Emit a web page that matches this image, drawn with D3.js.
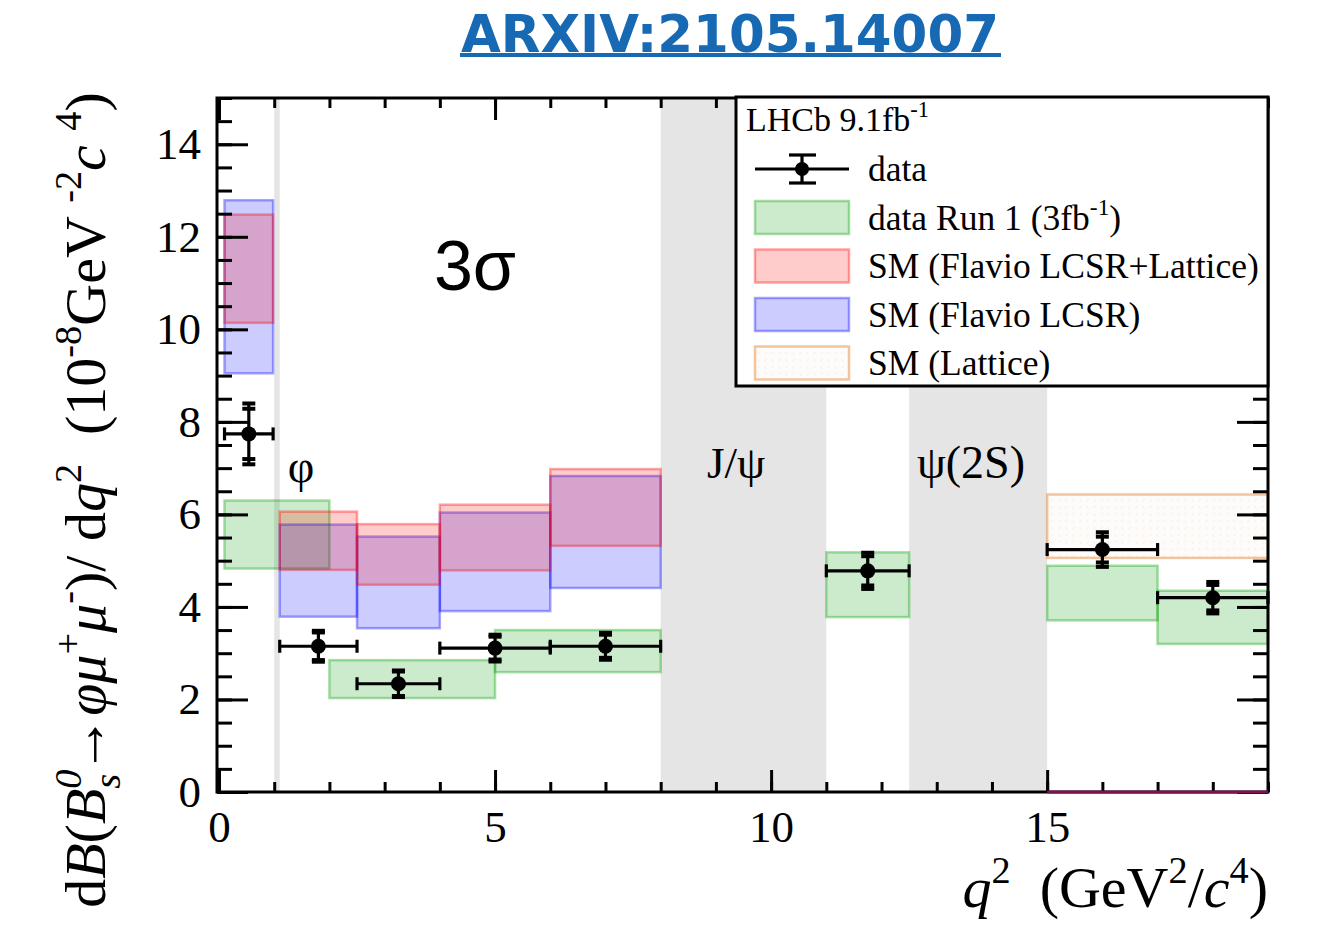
<!DOCTYPE html>
<html>
<head>
<meta charset="utf-8">
<script src="https://cdn.jsdelivr.net/npm/d3@7"></script>
<style>
  body { margin: 0; background: #fff; }
  text { white-space: pre; }
</style>
</head>
<body>
<svg id="chart" width="1317" height="925"></svg>
<script>
// ---- LHCb 9.1 fb^-1 measurement: bins, central values and uncertainties ----
const dataLo   = [0.1, 1.1, 2.5, 4.0, 6.0, 11.0, 15.0, 17.0];
const dataHi   = [0.98, 2.5, 4.0, 6.0, 8.0, 12.5, 17.0, 19.0];
const dataVal  = [7.74, 3.15, 2.34, 3.11, 3.15, 4.78, 5.24, 4.20];
const dataStat = [0.53, 0.29, 0.26, 0.24, 0.24, 0.30, 0.26, 0.26];
const dataSyst = [0.12, 0.07, 0.05, 0.06, 0.07, 0.10, 0.10, 0.09];
const dataNorm = [0.37, 0.15, 0.11, 0.15, 0.15, 0.23, 0.25, 0.20];

// ---- Run 1 (3 fb^-1) result bands ----
const run1Lo   = [0.1, 2.0, 5.0, 11.0, 15.0, 17.0];
const run1Hi   = [2.0, 5.0, 8.0, 12.5, 17.0, 19.0];
const run1Min  = [4.83, 2.03, 2.59, 3.78, 3.71, 3.20];
const run1Max  = [6.30, 2.85, 3.50, 5.18, 4.89, 4.35];

// ---- SM predictions (flavio) ----
const smLo     = [0.1, 1.1, 2.5, 4.0, 6.0, 15.0];
const smHi     = [0.98, 2.5, 4.0, 6.0, 8.0, 19.0];
const lcsrLatMin = [10.14, 4.80, 4.48, 4.79, 5.32, 0];
const lcsrLatMax = [12.48, 6.06, 5.79, 6.21, 6.98, 0];
const lcsrMin    = [9.05, 3.79, 3.54, 3.91, 4.41, 0];
const lcsrMax    = [12.79, 5.78, 5.52, 6.04, 6.83, 0];

// ---- SM prediction (lattice), high q^2 only ----
const latLo  = [15.0];
const latHi  = [19.0];
const latMin = [5.06];
const latMax = [6.43];

// ---- vetoed charmonium / phi regions ----
const vetoLo = [1.0, 8.0, 12.5];
const vetoHi = [1.1, 11.0, 15.0];

// ---- axis ticks ----
const xMajor = [0, 5, 10, 15];
const xMinor = d3.range(0, 20, 1);
const yMajor = [0, 2, 4, 6, 8, 10, 12, 14];
const yMinor = d3.range(0, 15.01, 0.5);

const legendLabels = [
  [{t: "data"}],
  [{t: "data Run 1 (3fb"}, {t: "-1", pos: "sup"}, {t: ")"}],
  [{t: "SM (Flavio LCSR+Lattice)"}],
  [{t: "SM (Flavio LCSR)"}],
  [{t: "SM (Lattice)"}]
];

const serif = "'Liberation Serif', 'Times New Roman', serif";
const sans = "'Liberation Sans', Arial, sans-serif";

const svg = d3.select("#chart");
const frame = {left: 217, right: 1268, top: 98, bottom: 792};
const x = d3.scaleLinear().domain([0, 19]).range([219, 1268]);
const y = d3.scaleLinear().domain([0, 15]).range([792, 98]);

// style of each band family
const styles = {
  run1:  {fill: "rgba(0,153,0,0.20)",  stroke: "rgba(0,160,0,0.35)"},
  lcsr:  {fill: "rgba(0,0,255,0.20)",  stroke: "rgba(0,0,255,0.35)"},
  lat2:  {fill: "rgba(255,0,0,0.20)",  stroke: "rgba(255,0,0,0.35)"},
  lat:   {fill: "url(#latHatch)",      stroke: "rgba(232,150,80,0.55)"}
};

// faint texture for the lattice band
const defs = svg.append("defs");
const pat = defs.append("pattern").attr("id", "latHatch")
  .attr("patternUnits", "userSpaceOnUse").attr("width", 14).attr("height", 14);
pat.append("rect").attr("width", 14).attr("height", 14).attr("fill", "rgba(250,230,210,0.12)");
pat.append("path").attr("d", "M1,4 L4,2 M8,11 L11,9 M2,9 L3,12 M9,2 L10,5")
  .attr("stroke", "rgba(235,180,140,0.22)").attr("stroke-width", 1).attr("fill", "none");

// ---- rich text helper (italics, super/subscripts) ----
function rich(textSel, segs, size) {
  let cur = 0;
  let prev = null;
  segs.forEach(s => {
    const small = s.pos === "sup" || s.pos === "sub";
    const target = s.pos === "sup" ? -0.42 * size : s.pos === "sub" ? 0.26 * size : 0;
    const ts = textSel.append("tspan")
      .attr("font-size", small ? size * 0.66 : size)
      .attr("font-style", s.it ? "italic" : "normal")
      .attr("dy", target - cur)
      .text(s.t);
    if (s.back && prev) ts.attr("dx", -prev.node().getComputedTextLength());
    cur = target;
    prev = ts;
  });
}

// ---- veto bands ----
svg.append("g").selectAll("rect").data(vetoLo).join("rect")
  .attr("x", (d, i) => x(d))
  .attr("width", (d, i) => x(vetoHi[i]) - x(d))
  .attr("y", y(15)).attr("height", y(0) - y(15))
  .attr("fill", "#e5e5e5");

// ---- boxes ----
function boxes(lo, hi, mn, mx, st) {
  svg.append("g").selectAll("rect").data(lo).join("rect")
    .attr("x", (d) => x(d))
    .attr("width", (d, i) => x(hi[i]) - x(d))
    .attr("y", (d, i) => y(mx[i]))
    .attr("height", (d, i) => y(mn[i]) - y(mx[i]))
    .attr("fill", st.fill)
    .attr("stroke", st.stroke)
    .attr("stroke-width", 2.5);
}
boxes(run1Lo, run1Hi, run1Min, run1Max, styles.run1);
boxes(latLo, latHi, latMin, latMax, styles.lat);
boxes(smLo, smHi, lcsrMin, lcsrMax, styles.lcsr);
boxes(smLo, smHi, lcsrLatMin, lcsrLatMax, styles.lat2);

// ---- region labels ----
svg.append("text").attr("x", 301).attr("y", 482).attr("text-anchor", "middle")
  .attr("font-family", serif).attr("font-size", 46).text("φ");
svg.append("text").attr("x", 736).attr("y", 478).attr("text-anchor", "middle")
  .attr("font-family", serif).attr("font-size", 45).text("J/ψ");
svg.append("text").attr("x", 971).attr("y", 478).attr("text-anchor", "middle")
  .attr("font-family", serif).attr("font-size", 46).text("ψ(2S)");
svg.append("text").attr("x", 475).attr("y", 290).attr("text-anchor", "middle")
  .attr("font-family", sans).attr("font-size", 70).text("3σ");

// ---- data points ----
const pts = dataVal.map((v, i) => {
  const inner = Math.hypot(dataStat[i], dataSyst[i]);
  const tot = Math.hypot(dataStat[i], dataSyst[i], dataNorm[i]);
  return {lo: dataLo[i], hi: dataHi[i], v, inner, tot, mid: (dataLo[i] + dataHi[i]) / 2};
});
const gp = svg.append("g").attr("stroke", "#000").attr("stroke-width", 3.2);
const pg = gp.selectAll("g").data(pts).join("g");
pg.append("line").attr("x1", d => x(d.lo)).attr("x2", d => x(d.hi))
  .attr("y1", d => y(d.v)).attr("y2", d => y(d.v));
pg.append("line").attr("x1", d => x(d.lo)).attr("x2", d => x(d.lo))
  .attr("y1", d => y(d.v) - 6.5).attr("y2", d => y(d.v) + 6.5);
pg.append("line").attr("x1", d => x(d.hi)).attr("x2", d => x(d.hi))
  .attr("y1", d => y(d.v) - 6.5).attr("y2", d => y(d.v) + 6.5);
pg.append("line").attr("x1", d => x(d.mid)).attr("x2", d => x(d.mid))
  .attr("y1", d => y(d.v + d.tot)).attr("y2", d => y(d.v - d.tot));
[["tot", 1], ["tot", -1], ["inner", 1], ["inner", -1]].forEach(([k, s]) => {
  pg.append("line").attr("x1", d => x(d.mid) - 6.5).attr("x2", d => x(d.mid) + 6.5)
    .attr("y1", d => y(d.v + s * d[k])).attr("y2", d => y(d.v + s * d[k]))
    .attr("stroke-width", 4);
});
pg.append("circle").attr("cx", d => x(d.mid)).attr("cy", d => y(d.v)).attr("r", 7.5)
  .attr("fill", "#000").attr("stroke", "none");

// ---- axes (ticks pointing inward) ----
function styleAxis(g) {
  g.select(".domain").remove();
  g.selectAll(".tick line").attr("stroke", "#000").attr("stroke-width", 3);
  g.selectAll("text").attr("font-family", serif).attr("font-size", 45).attr("fill", "#000");
}
svg.append("g").attr("transform", `translate(0,${frame.bottom})`)
  .call(d3.axisBottom(x).tickValues(xMinor).tickSize(-10).tickFormat("")).call(styleAxis);
svg.append("g").attr("transform", `translate(0,${frame.bottom})`)
  .call(d3.axisBottom(x).tickValues(xMajor).tickSize(-22).tickPadding(18).tickFormat(d3.format("d")))
  .call(styleAxis);
svg.append("g").attr("transform", `translate(0,${frame.top})`)
  .call(d3.axisTop(x).tickValues(xMinor).tickSize(-10).tickFormat("")).call(styleAxis);
svg.append("g").attr("transform", `translate(0,${frame.top})`)
  .call(d3.axisTop(x).tickValues(xMajor).tickSize(-22).tickFormat("")).call(styleAxis);
svg.append("g").attr("transform", `translate(${frame.left},0)`)
  .call(d3.axisLeft(y).tickValues(yMinor).tickSize(-15).tickFormat("")).call(styleAxis);
svg.append("g").attr("transform", `translate(${frame.left},0)`)
  .call(d3.axisLeft(y).tickValues(yMajor).tickSize(-31).tickPadding(16).tickFormat(d3.format("d")))
  .call(styleAxis);
svg.append("g").attr("transform", `translate(${frame.right},0)`)
  .call(d3.axisRight(y).tickValues(yMinor).tickSize(-15).tickFormat("")).call(styleAxis);
svg.append("g").attr("transform", `translate(${frame.right},0)`)
  .call(d3.axisRight(y).tickValues(yMajor).tickSize(-31).tickFormat("")).call(styleAxis);

svg.append("rect").attr("x", frame.left).attr("y", frame.top)
  .attr("width", frame.right - frame.left).attr("height", frame.bottom - frame.top)
  .attr("fill", "none").attr("stroke", "#000").attr("stroke-width", 3);

// zero-width SM entries at high q^2 sit on the axis
const zeroIdx = d3.range(smLo.length).filter(i => lcsrMax[i] === 0);
svg.append("g").selectAll("line").data(zeroIdx).join("line")
  .attr("x1", i => x(smLo[i])).attr("x2", i => x(smHi[i]))
  .attr("y1", i => y(lcsrMax[i])).attr("y2", i => y(lcsrMax[i]))
  .attr("stroke", "#7a1450").attr("stroke-width", 3);

// ---- axis titles ----
const xt = svg.append("text").attr("x", 1268).attr("y", 907).attr("text-anchor", "end")
  .attr("font-family", serif).attr("fill", "#000");
rich(xt, [{t: "q", it: 1}, {t: "2", pos: "sup"}, {t: "  (GeV"}, {t: "2", pos: "sup"},
          {t: "/"}, {t: "c", it: 1}, {t: "4", pos: "sup"}, {t: ")"}], 58);

const yt = svg.append("text").attr("transform", "translate(105,500) rotate(-90)")
  .attr("text-anchor", "middle").attr("font-family", serif).attr("fill", "#000");
rich(yt, [
  {t: "d"}, {t: "B", it: 1}, {t: "("}, {t: "B", it: 1},
  {t: "0", it: 1, pos: "sup"}, {t: "s", it: 1, pos: "sub", back: true},
  {t: "→"}, {t: "φμ", it: 1}, {t: "+", pos: "sup"}, {t: "μ", it: 1}, {t: "-", pos: "sup"},
  {t: ")/ d"}, {t: "q", it: 1}, {t: "2", pos: "sup"}, {t: "  (10"}, {t: "-8", pos: "sup"},
  {t: "GeV "}, {t: "-2", pos: "sup"}, {t: "c ", it: 1}, {t: "4", pos: "sup"}, {t: ")"}
], 58);

// ---- legend ----
const lg = svg.append("g");
lg.append("rect").attr("x", 736).attr("y", 97).attr("width", 1268 - 736).attr("height", 386 - 97)
  .attr("fill", "#fff").attr("stroke", "#000").attr("stroke-width", 3);
const lh = lg.append("text").attr("x", 746).attr("y", 131).attr("font-family", serif);
rich(lh, [{t: "LHCb 9.1fb"}, {t: "-1", pos: "sup"}], 34);

const rowY = d3.scaleLinear().domain([0, 1]).range([169, 217.5]);
const swatch = [null, styles.run1, styles.lat2, styles.lcsr, styles.lat];
legendLabels.forEach((segs, i) => {
  const cy = rowY(i);
  if (i === 0) {
    const g = lg.append("g").attr("stroke", "#000").attr("stroke-width", 3.2);
    g.append("line").attr("x1", 755).attr("x2", 849).attr("y1", cy).attr("y2", cy);
    g.append("line").attr("x1", 802).attr("x2", 802).attr("y1", cy - 14).attr("y2", cy + 14);
    g.append("line").attr("x1", 789).attr("x2", 816).attr("y1", cy - 14).attr("y2", cy - 14);
    g.append("line").attr("x1", 789).attr("x2", 816).attr("y1", cy + 14).attr("y2", cy + 14);
    g.append("circle").attr("cx", 802).attr("cy", cy).attr("r", 7).attr("fill", "#000").attr("stroke", "none");
  } else {
    lg.append("rect").attr("x", 755).attr("y", cy - 16.5).attr("width", 94).attr("height", 33)
      .attr("fill", swatch[i].fill).attr("stroke", swatch[i].stroke).attr("stroke-width", 2.5);
  }
  const t = lg.append("text").attr("x", 868).attr("y", cy + 12).attr("font-family", serif);
  rich(t, segs, 35.5);
});

// ---- header ----
svg.append("text").attr("x", 730).attr("y", 52).attr("text-anchor", "middle")
  .attr("font-family", "'DejaVu Sans', Verdana, sans-serif").attr("font-weight", "bold")
  .attr("font-size", 51).attr("textLength", 538).attr("lengthAdjust", "spacingAndGlyphs")
  .attr("fill", "#1769b3").text("ARXIV:2105.14007");
svg.append("rect").attr("x", 460).attr("y", 53).attr("width", 541).attr("height", 4).attr("fill", "#1769b3");
</script>
</body>
</html>
